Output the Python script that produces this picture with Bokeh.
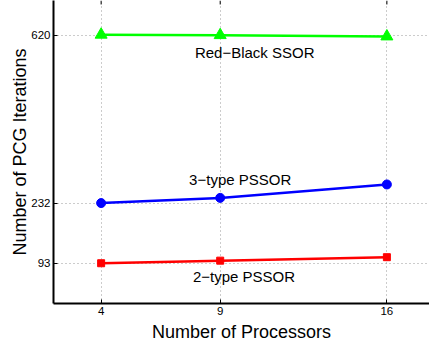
from bokeh.plotting import figure
from bokeh.models import FixedTicker, Range1d
from bokeh.core.properties import value
from bokeh.embed import file_html
from bokeh.resources import INLINE

processors = [4, 9, 16]
red_black_ssor = [621, 620, 617]
three_type_pssor = [232, 244, 275]
two_type_pssor = [93, 99, 107]
y_ticks = [93, 232, 620]
x_ticks = [4, 9, 16]

labels = ["Red\u2212Black SSOR", "3\u2212type PSSOR", "2\u2212type PSSOR"]
label_x = [10.45, 9.84, 10.0]
label_y = [581, 287, 62]

FONT = "Liberation Sans"
Y_MIN, Y_MAX = 0, 700

p = figure(width=429, height=344, output_backend="svg", toolbar_location=None,
           x_range=Range1d(2, 17.79), y_range=Range1d(Y_MIN, Y_MAX),
           min_border_left=53, min_border_right=0, min_border_top=0, min_border_bottom=39)
p.outline_line_color = None
p.background_fill_color = "white"
p.border_fill_color = "white"

for ax in (p.xaxis[0], p.yaxis[0]):
    ax.axis_line_color = "black"
    ax.axis_line_width = 2
    ax.major_tick_in = 4
    ax.major_tick_out = 0
    ax.minor_tick_line_color = None
    ax.major_tick_line_color = "black"
    ax.major_label_text_font = FONT
    ax.major_label_text_font_size = "11.5px"
    ax.major_label_text_color = "black"
    ax.axis_label_text_font = FONT
    ax.axis_label_text_font_size = "18px"
    ax.axis_label_text_font_style = "normal"
    ax.axis_label_text_color = "black"

p.xaxis.ticker = FixedTicker(ticks=x_ticks)
p.yaxis.ticker = FixedTicker(ticks=y_ticks)
p.xaxis.axis_label = "Number of Processors"
p.yaxis.axis_label = "Number of PCG Iterations"
p.xaxis.major_label_standoff = 3
p.xaxis.axis_label_standoff = 4
p.yaxis.major_label_standoff = 3
p.yaxis.axis_label_standoff = -2

for g in (p.xgrid[0], p.ygrid[0]):
    g.grid_line_color = "#999999"
    g.grid_line_dash = "1 3"
    g.grid_line_width = 1
p.xgrid.ticker = FixedTicker(ticks=x_ticks)
p.ygrid.ticker = FixedTicker(ticks=y_ticks)

# inward tick marks along the (cropped) top edge of the box
tick_len = 4 * (Y_MAX - Y_MIN) / 305
p.segment(x0=x_ticks, y0=[Y_MAX] * len(x_ticks), x1=x_ticks,
          y1=[Y_MAX - tick_len] * len(x_ticks), line_color="black", line_width=1)

p.line(processors, red_black_ssor, line_color="#00ff00", line_width=2.5)
p.scatter(processors, red_black_ssor, marker="triangle", size=12,
          fill_color="#00ff00", line_color="#00ff00")
p.line(processors, three_type_pssor, line_color="#0000ff", line_width=2.5)
p.scatter(processors, three_type_pssor, marker="circle", size=9,
          fill_color="#0000ff", line_color="#0000ff")
p.line(processors, two_type_pssor, line_color="#ff0000", line_width=2.5)
p.scatter(processors, two_type_pssor, marker="square", size=7,
          fill_color="#ff0000", line_color="#ff0000")

p.text(label_x, label_y, text=labels, text_font=value(FONT), text_font_size="15px",
       text_align="center", text_baseline="middle", text_color="black")

open("out.html", "w").write(file_html(p, INLINE))
